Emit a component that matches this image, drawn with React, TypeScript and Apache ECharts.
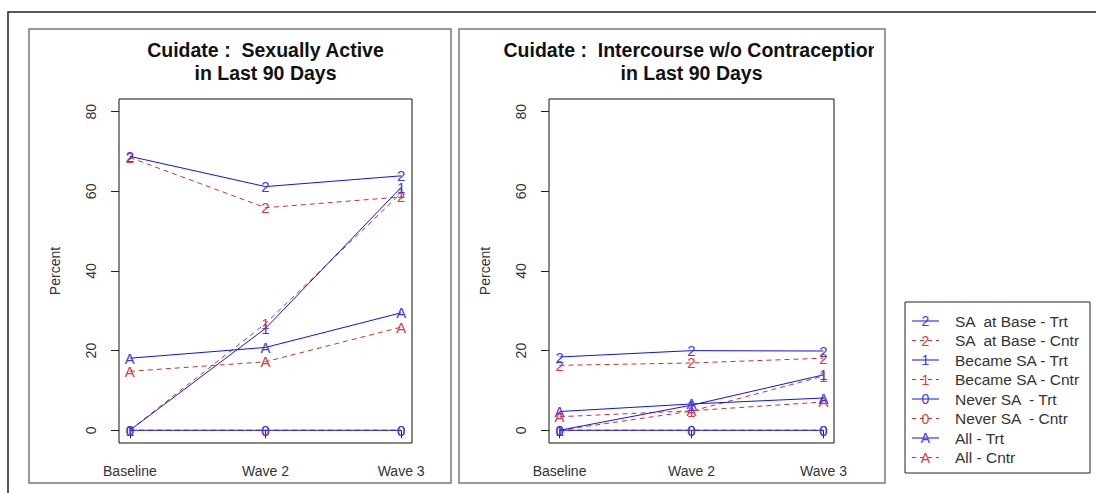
import React, { useEffect, useRef } from "react";
import * as echarts from "echarts";

const categories = ["Baseline", "Wave 2", "Wave 3"];
const seriesNames = [
  "SA  at Base - Trt",
  "SA  at Base - Cntr",
  "Became SA - Trt",
  "Became SA - Cntr",
  "Never SA  - Trt",
  "Never SA  - Cntr",
  "All - Trt",
  "All - Cntr",
];
const seriesMarks = ["2", "2", "1", "1", "0", "0", "A", "A"];
const yTicks = [0, 20, 40, 60, 80];

// Panel 1: Sexually Active in Last 90 Days
const saBaseTrtL = [68.8, 61.2, 63.9];
const saBaseCntrL = [68.5, 55.9, 58.6];
const becameTrtL = [0, 25.6, 61.0];
const becameCntrL = [0, 26.8, 59.6];
const neverTrtL = [0, 0, 0];
const neverCntrL = [0, 0, 0];
const allTrtL = [18.1, 20.8, 29.5];
const allCntrL = [14.8, 17.2, 25.9];

// Panel 2: Intercourse w/o Contraception in Last 90 Days
const saBaseTrtR = [18.4, 20.0, 19.9];
const saBaseCntrR = [16.3, 16.9, 18.1];
const becameTrtR = [0, 6.3, 13.9];
const becameCntrR = [0, 4.8, 13.6];
const neverTrtR = [0, 0, 0];
const neverCntrR = [0, 0, 0];
const allTrtR = [4.7, 6.6, 8.1];
const allCntrR = [3.4, 4.9, 7.1];

const panelTitles = [
  "Cuidate :  Sexually Active\nin Last 90 Days",
  "Cuidate :  Intercourse w/o Contraception\nin Last 90 Days",
];

const BLUE_LINE = "#1010f0";
const BLUE_TEXT = "#3c3cea";
const RED_LINE = "#c83232";
const RED_TEXT = "#e03a3a";
const FONT = "'Liberation Sans', Arial, sans-serif";

export default function App() {
  const ref = useRef<HTMLDivElement>(null);
  useEffect(() => {
    if (!ref.current) return;
    const chart = echarts.init(ref.current, undefined, { renderer: "svg" });

    const panels = [
      [saBaseTrtL, saBaseCntrL, becameTrtL, becameCntrL, neverTrtL, neverCntrL, allTrtL, allCntrL],
      [saBaseTrtR, saBaseCntrR, becameTrtR, becameCntrR, neverTrtR, neverCntrR, allTrtR, allCntrR],
    ];

    const grids = [
      { left: 119, top: 99, width: 293, height: 344 },
      { left: 549, top: 99, width: 285, height: 344 },
    ];

    const xAxes = grids.map((_, i) => ({
      type: "value",
      gridIndex: i,
      min: 0.92,
      max: 3.08,
      axisLine: { show: false },
      splitLine: { show: false },
      axisTick: {
        show: true,
        customValues: [1, 2, 3],
        length: 8,
        lineStyle: { color: "#222", width: 1 },
      },
      axisLabel: {
        customValues: [1, 2, 3],
        formatter: (v: number) => categories[Math.round(v) - 1] ?? "",
        margin: 21,
        color: "#333",
        fontSize: 14,
        fontFamily: FONT,
      },
    }));

    const yAxes = grids.map((_, i) => ({
      type: "value",
      gridIndex: i,
      min: -3.2,
      max: 83.2,
      name: "Percent",
      nameLocation: "middle",
      nameGap: 57,
      nameRotate: 90,
      nameTextStyle: { color: "#333", fontSize: 14, fontFamily: FONT },
      axisLine: { show: false },
      splitLine: { show: false },
      axisTick: {
        show: true,
        customValues: yTicks,
        length: 8,
        lineStyle: { color: "#222", width: 1 },
      },
      axisLabel: {
        customValues: yTicks,
        rotate: 90,
        margin: 21,
        color: "#333",
        fontSize: 14,
        fontFamily: FONT,
      },
    }));

    const series: any[] = [];
    panels.forEach((vals, p) => {
      vals.forEach((arr, k) => {
        const isTrt = k % 2 === 0;
        series.push({
          type: "line",
          name: seriesNames[k] + " " + p,
          xAxisIndex: p,
          yAxisIndex: p,
          data: arr.map((v, i) => [i + 1, v]),
          symbol: "circle",
          symbolSize: 1,
          showSymbol: true,
          itemStyle: { color: "rgba(0,0,0,0)" },
          lineStyle: {
            color: isTrt ? BLUE_LINE : RED_LINE,
            width: 1,
            type: isTrt ? "solid" : [5, 4],
          },
          label: {
            show: true,
            position: "inside",
            formatter: seriesMarks[k],
            color: isTrt ? BLUE_TEXT : RED_TEXT,
            fontSize: 15,
            fontFamily: FONT,
          },
          emphasis: { disabled: true },
          silent: true,
          z: isTrt ? 3 : 2,
        });
      });
    });

    // legend drawn as graphic
    const legendX = 905;
    const legendY = 302;
    const legendRow0 = 321;
    const legendStep = 19.5;
    const legendEls: any[] = [
      {
        type: "rect",
        shape: { x: legendX, y: legendY, width: 185, height: 171 },
        style: { fill: "#fff", stroke: "#222", lineWidth: 1 },
        z: 50,
      },
    ];
    seriesNames.forEach((nm, k) => {
      const isTrt = k % 2 === 0;
      const y = legendRow0 + k * legendStep;
      legendEls.push({
        type: "line",
        shape: { x1: 912, y1: y, x2: 939, y2: y },
        style: {
          stroke: isTrt ? BLUE_LINE : RED_LINE,
          lineWidth: 1,
          lineDash: isTrt ? null : [4, 4],
        },
        z: 51,
      });
      legendEls.push({
        type: "text",
        x: 925.5,
        y: y,
        style: {
          text: seriesMarks[k],
          fill: isTrt ? BLUE_TEXT : RED_TEXT,
          font: `14px ${FONT}`,
          textAlign: "center",
          textVerticalAlign: "middle",
          align: "center",
          verticalAlign: "middle",
        },
        z: 52,
      });
      legendEls.push({
        type: "text",
        x: 955,
        y: y,
        style: {
          text: nm,
          fill: "#333",
          font: `15.5px ${FONT}`,
          textAlign: "left",
          textVerticalAlign: "middle",
          align: "left",
          verticalAlign: "middle",
        },
        z: 52,
      });
    });

    const option: any = {
      animation: false,
      backgroundColor: "#fff",
      title: panelTitles.map((t, i) => ({
        text: t,
        left: i === 0 ? 265.5 : 691.5,
        top: 38,
        padding: 0,
        textAlign: "center",
        textStyle: {
          fontFamily: FONT,
          fontWeight: "bold",
          fontSize: 19.5,
          lineHeight: 23,
          color: "#111",
        },
      })),
      grid: grids.map((g) => ({
        ...g,
        show: true,
        borderColor: "#111",
        borderWidth: 1,
        backgroundColor: "transparent",
      })),
      xAxis: xAxes,
      yAxis: yAxes,
      series,
      graphic: [
        {
          type: "rect",
          shape: { x: 874, y: 34, width: 10.3, height: 30 },
          style: { fill: "#fff", stroke: null },
          z: 39,
        },
        {
          type: "polyline",
          shape: { points: [[8, 493], [8, 12], [1096, 12]] },
          style: { stroke: "#222", lineWidth: 1.5, fill: null },
          z: 40,
        },
        {
          type: "rect",
          shape: { x: 29, y: 29, width: 422, height: 454 },
          style: { fill: null, stroke: "#7a7a7a", lineWidth: 1.5 },
          z: 40,
        },
        {
          type: "rect",
          shape: { x: 459, y: 29, width: 426, height: 454 },
          style: { fill: null, stroke: "#7a7a7a", lineWidth: 1.5 },
          z: 40,
        },
        ...legendEls,
      ],
    };

    chart.setOption(option);
    return () => chart.dispose();
  }, []);

  return (
    <div
      ref={ref}
      style={{ position: "absolute", left: 0, top: 0, width: 1096, height: 493 }}
    />
  );
}
